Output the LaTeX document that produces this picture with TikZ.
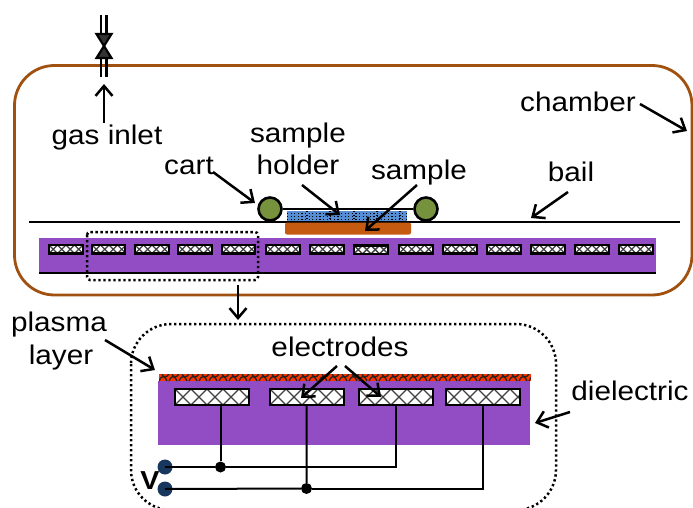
\documentclass[tikz,border=0pt]{standalone}
\usepackage{fontspec}
\setmainfont{Liberation Sans}
\usetikzlibrary{arrows.meta}
\definecolor{chamberc}{HTML}{A0500F}
\definecolor{purp}{HTML}{924DC4}
\definecolor{olive}{HTML}{76923C}
\definecolor{bluec}{HTML}{558ED5}
\definecolor{orangec}{HTML}{C55A11}
\definecolor{navyc}{HTML}{17375E}
\definecolor{redc}{HTML}{FF3300}
\tikzset{
  lbl/.style={font=\fontsize{27}{29}\selectfont,inner sep=0pt,xscale=1.1},
  callout/.style={draw=black,line width=2.5pt,-{Straight Barb[length=10pt,width=17pt,line width=2.5pt]}},
  wire/.style={draw=black,line width=2pt},
  dotbox/.style={draw=black,line width=2.5pt,dash pattern=on 2.3pt off 2.7pt},
  junction/.style={circle,fill=black,inner sep=0pt,minimum size=11pt},
  terminal/.style={circle,fill=navyc,inner sep=0pt,minimum size=15pt},
  wheel/.style={circle,draw=black,fill=olive,line width=2.6pt,inner sep=0pt,minimum size=23pt},
  elecbox/.style={draw=black,line width=2.3pt,inner sep=0pt}
}
\newcommand{\elec}[4]{%
  \begin{scope}
    \clip (#1,#3) rectangle (#2,#4);
    \fill[white] (#1,#3) rectangle (#2,#4);
    \pgfmathsetmacro{\hh}{#4-#3}
    \foreach \k in {-1,...,14}{
      \pgfmathsetmacro{\xa}{#1+\k*\hh*1.0}
      \draw[black!75,line width=1.3pt] (\xa,#4) -- ++(\hh,-\hh);
      \draw[black!75,line width=1.3pt] (\xa,#3) -- ++(\hh,\hh);
    }
  \end{scope}
  \draw[elecbox] (#1,#3) rectangle (#2,#4);
}
\begin{document}
\begin{tikzpicture}[x=1pt,y=-1pt]
\useasboundingbox (0,0) rectangle (693,508);
% chamber
\draw[chamberc,line width=2.8pt,rounded corners=40pt,fill=white] (14.5,65.5) rectangle (692,295);
% bail and cart
\coordinate (bailL) at (29,222);
\coordinate (bailR) at (680,222);
\draw[black,line width=2.5pt] (bailL) -- (bailR);
\node[wheel] (cartL) at (270,209) {};
\node[wheel] (cartR) at (426,209) {};
\draw[black,line width=2.8pt] (cartL) -- (cartR);
\fill[bluec] (287,211) rectangle (407,222);
\foreach \yy in {213.5,216.5,219.5}{
  \draw[black,line width=1.2pt,dash pattern=on 1.2pt off 2.4pt] (287,\yy) -- (407,\yy);
}
\foreach \xx in {307,330,354,377,400}{
  \draw[black,line width=1.2pt,dash pattern=on 1.2pt off 2.4pt] (\xx,211) -- (\xx,222);
}
\draw[black,line width=1.5pt] (287,222) -- (407,222);
\fill[orangec,rounded corners=2pt] (285,222.5) rectangle (411,234.5);
% upper dielectric
\fill[purp] (39,238) rectangle (656,273);
\draw[black,line width=2.5pt] (39,273) -- (656,273);
\foreach \xa/\xb/\ya in {49/83/245,92/125/245,135/169/245,178/212/245,222/255/245,266/300/245,310/344/245,354/388/245.4,399/433/245,443/477/245,487/521/245,531/565/245,575/609/245,619/653/245}{
  \pgfmathsetmacro{\yb}{\ya+8.5}
  \elec{\xa}{\xb}{\ya}{\yb}
}
% dotted boxes
\draw[dotbox,rounded corners=3pt] (87,232) rectangle (258,280);
\draw[dotbox,rounded corners=40pt] (131,324) rectangle (556,510);
% valve
\draw[black,line width=2.2pt] (101,15) -- (101,34) (106.5,15) -- (106.5,34);
\draw[black,line width=2.2pt] (101,58) -- (101,77) (106.5,58) -- (106.5,77);
\draw[black,line width=2.2pt,fill=black!80] (96.5,34) -- (111.5,34) -- (104,46) -- cycle;
\draw[black,line width=2.2pt,fill=black!80] (96.5,58) -- (111.5,58) -- (104,46) -- cycle;
% lower dielectric
\fill[purp] (158,381) rectangle (530,445);
\begin{scope}
  \clip (159,374) rectangle (531,381);
  \fill[redc] (159,374) rectangle (531,381);
  \foreach \k in {0,...,37}{
    \pgfmathsetmacro{\xx}{159+\k*10}
    \draw[black!85,line width=1.3pt] (\xx,381) .. controls (\xx+3,375) and (\xx+5,375) .. (\xx+8,381);
    \draw[black!85,line width=1.3pt] (\xx+3,374) .. controls (\xx+5,378) and (\xx+7,378) .. (\xx+10,374);
  }
\end{scope}
\foreach \xa/\xb in {175/249,270/344,359/433,446/520}{
  \elec{\xa}{\xb}{389}{405}
}
% terminals and junctions
\node[terminal] (t1) at (165,467) {};
\node[terminal] (t2) at (165,489) {};
\node[junction] (j1) at (220.5,467) {};
\node[junction] (j2) at (306.5,488.5) {};
\coordinate (e1) at (220.5,405);
\coordinate (e2) at (306.5,405);
\coordinate (e3) at (396,405);
\coordinate (e4) at (483,405);
\draw[wire] (t1.center) -- (j1) (e1) -- (j1);
\draw[wire] (j1) -| (e3);
\draw[wire] (t2.center) -- (j2) (e2) -- (j2);
\draw[wire] (j2) -| (e4);
% labels
\node[lbl] (gas) at (107,138) {gas inlet};
\node[lbl] (chamber) at (578,102) {chamber};
\node[lbl] (sample1) at (298,136) {sample};
\node[lbl] (holder) at (298,165) {holder};
\node[lbl] (cart) at (189,166) {cart};
\node[lbl] (sample) at (419,173) {sample};
\node[lbl] (bail) at (571,172) {bail};
\node[lbl] (plasma) at (59,325) {plasma};
\node[lbl] (layer) at (61,358) {layer};
\node[lbl] (electrodes) at (340,347) {electrodes};
\node[lbl] (dielectric) at (630,391) {dielectric};
\node[lbl,font=\fontsize{26}{28}\selectfont\bfseries] (vlabel) at (150,481) {V};
% callouts
\coordinate (a1s) at (104,123); \coordinate (a1e) at (104,84);
\coordinate (a2s) at (640,104); \coordinate (a2e) at (687,131);
\coordinate (a3s) at (213,172); \coordinate (a3e) at (255,203);
\coordinate (a4s) at (302,185); \coordinate (a4e) at (340,215);
\coordinate (a5s) at (417,185); \coordinate (a5e) at (365,231);
\coordinate (a6s) at (568,192); \coordinate (a6e) at (531,218);
\coordinate (a7s) at (105,340); \coordinate (a7e) at (155,370);
\coordinate (a8s) at (337,366); \coordinate (a8e) at (301,398);
\coordinate (a9s) at (345,366); \coordinate (a9e) at (381,397);
\coordinate (a10s) at (570,412); \coordinate (a10e) at (535,423);
\coordinate (a11s) at (238,285); \coordinate (a11e) at (238,320);
\foreach \n in {1,...,11}{
  \draw[callout] (a\n s) -- (a\n e);
}
\end{tikzpicture}
\end{document}
